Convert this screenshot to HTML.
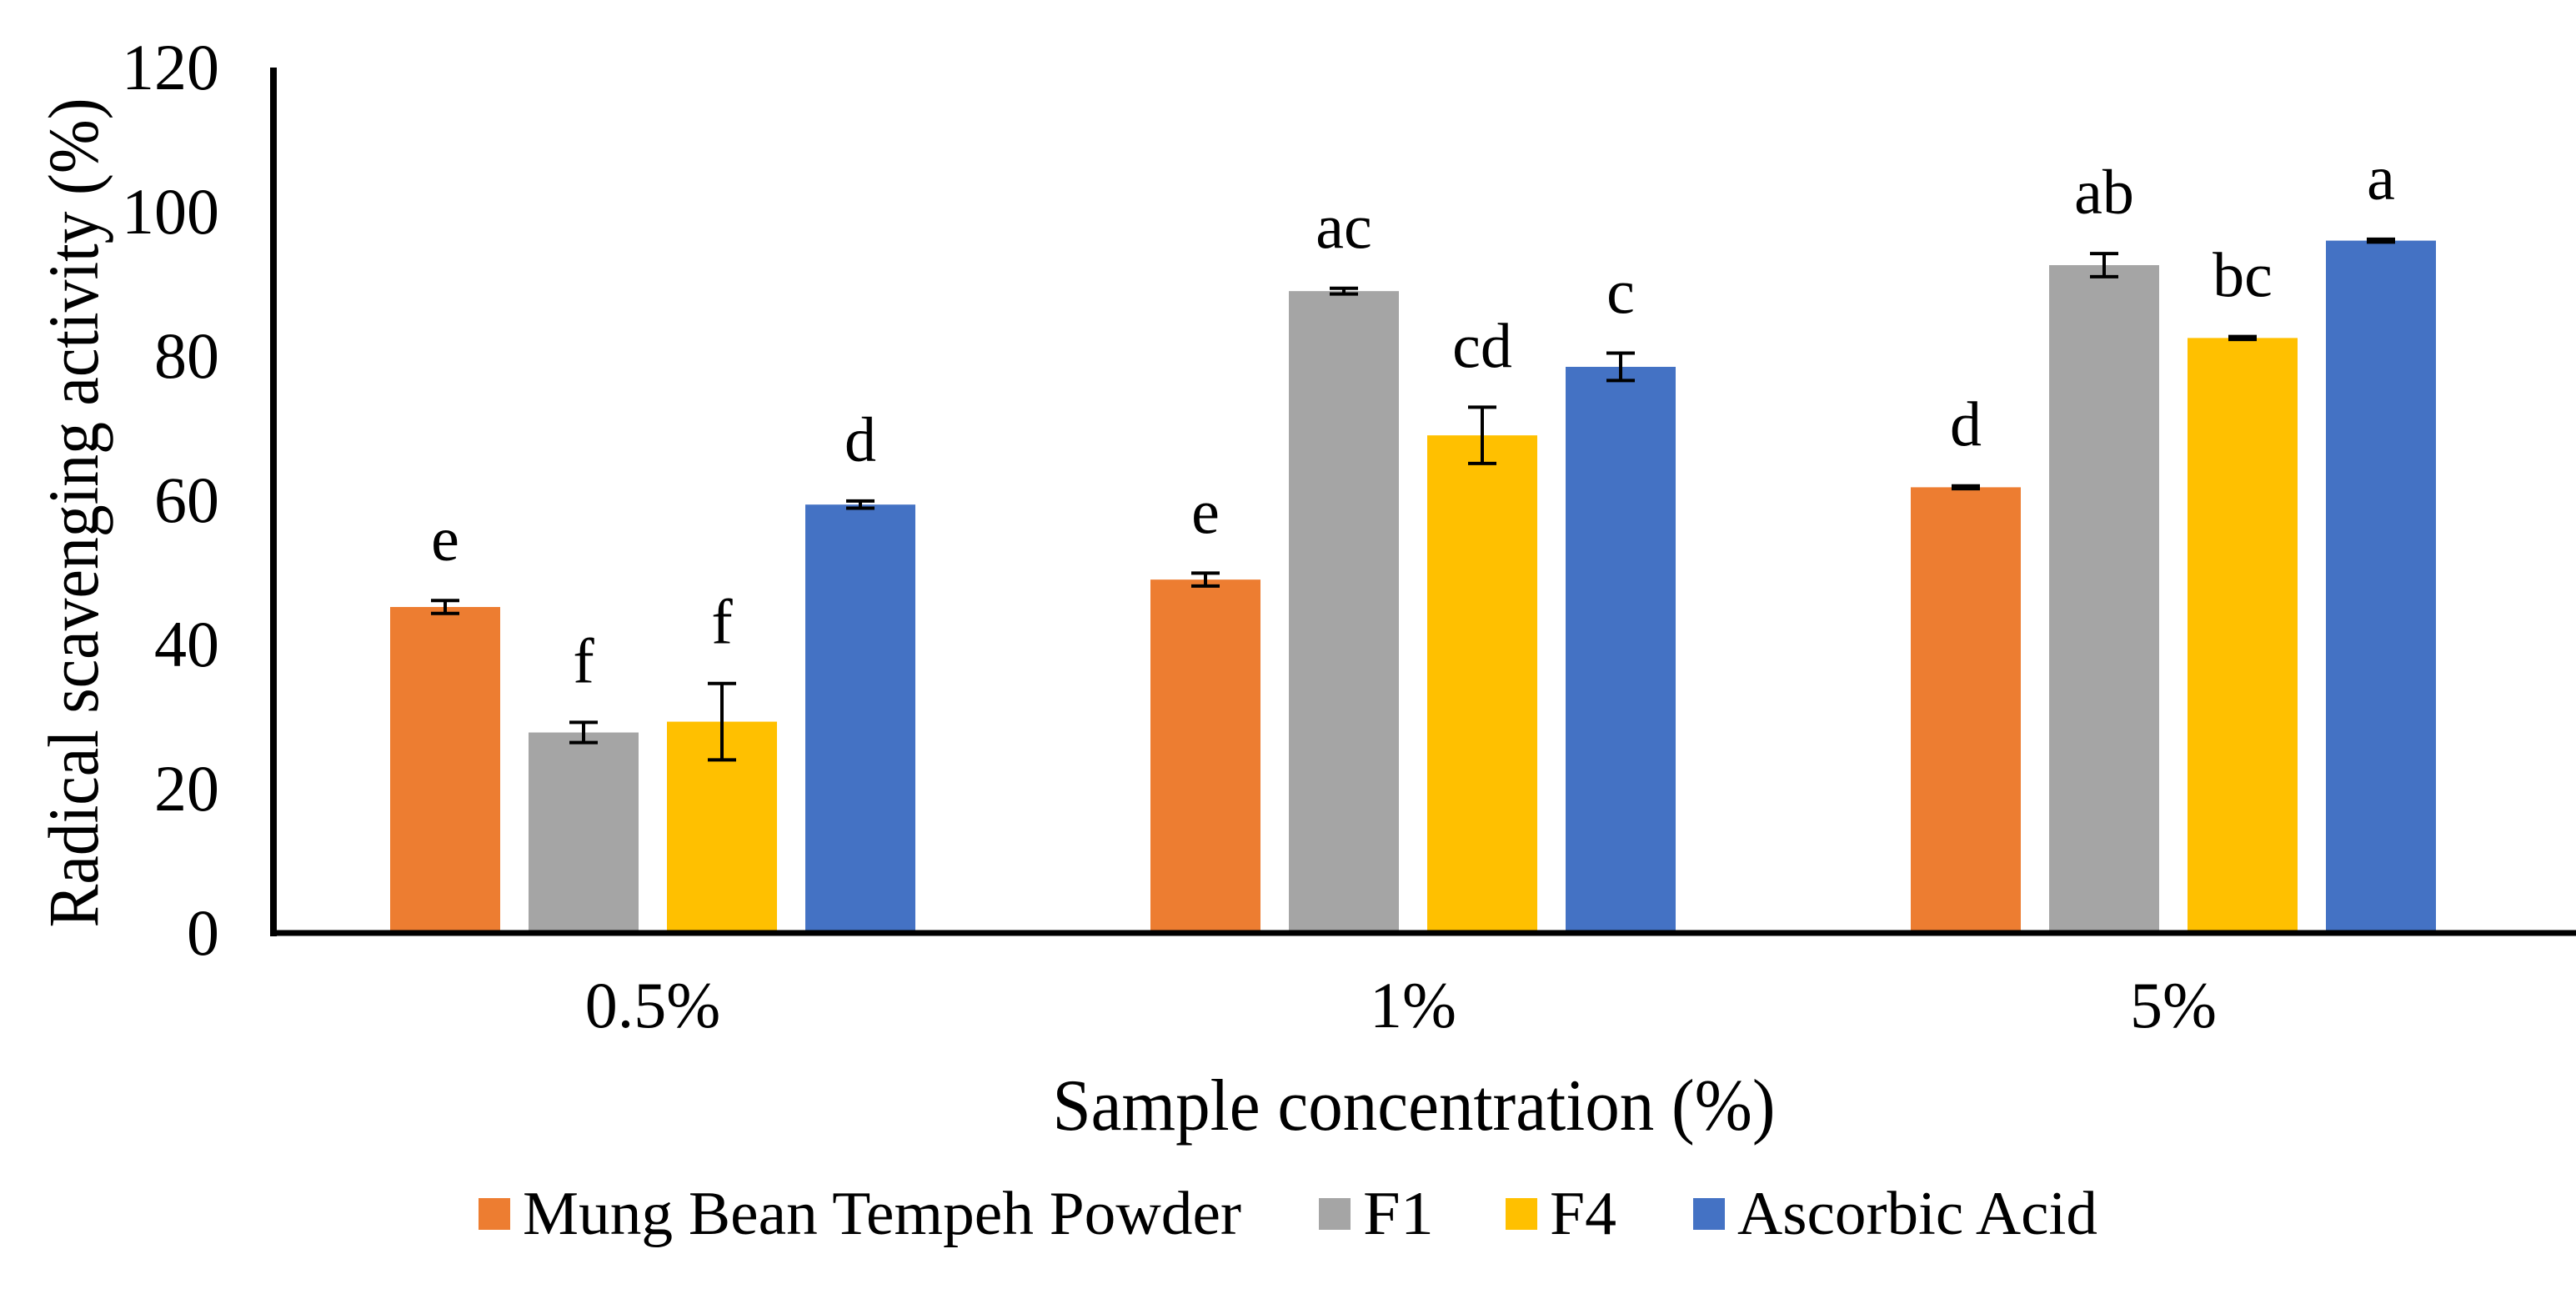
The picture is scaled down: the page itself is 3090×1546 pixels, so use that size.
<!DOCTYPE html>
<html><head><meta charset="utf-8"><style>
html,body{margin:0;padding:0;background:#fff;}
text{font-family:"Liberation Serif","Times New Roman","Nimbus Roman","DejaVu Serif",serif;}
</style></head><body>
<svg id="chart" width="3090" height="1541" viewBox="0 0 3090 1541" xmlns="http://www.w3.org/2000/svg">
<rect width="3090" height="1541" fill="#fff"/>
<g id="bars"></g>
<g id="yticks"></g>
<g id="xticks"></g>
<line x1="328" y1="81" x2="328" y2="1123" stroke="#000" stroke-width="8"/>
<line x1="324" y1="1119" x2="3090" y2="1119" stroke="#000" stroke-width="7"/>
<text transform="translate(117,615) rotate(-90)" text-anchor="middle" font-size="86" textLength="995" lengthAdjust="spacingAndGlyphs">Radical scavenging activity (%)</text>
<text x="1696" y="1355" text-anchor="middle" font-size="88" textLength="867" lengthAdjust="spacingAndGlyphs">Sample concentration (%)</text>
<g id="legend"></g>
</svg>
<script>
const categories = ["0.5%", "1%", "5%"];
const seriesNames = ["Mung Bean Tempeh Powder", "F1", "F4", "Ascorbic Acid"];
const mungBean = [45.2, 49.0, 61.8];
const f1 = [27.8, 89.0, 92.6];
const f4 = [29.3, 69.0, 82.5];
const ascorbic = [59.4, 78.5, 96.0];
const errMung = [0.9, 0.9, 0.2];
const errF1 = [1.4, 0.4, 1.6];
const errF4 = [5.3, 3.9, 0.2];
const errAsc = [0.5, 1.9, 0.2];
const lettersMung = ["e", "e", "d"];
const lettersF1 = ["f", "ac", "ab"];
const lettersF4 = ["f", "cd", "bc"];
const lettersAsc = ["d", "c", "a"];
const yTicks = [0, 20, 40, 60, 80, 100, 120];

const colors = ["#ED7D31", "#A5A5A5", "#FFC000", "#4472C4"];
const NS = "http://www.w3.org/2000/svg";
const y0 = 1119, y120 = 81, yMax = 120;
function yScale(v){ return y0 - (v / yMax) * (y0 - y120); }
const xStart = 327, band = 912, barW = 132, barStep = 166;
function groupCenter(i){ return xStart + band * (i + 0.5); }
function barX(i, s){ return groupCenter(i) - (3 * barStep + barW) / 2 + s * barStep; }
function mk(tag, attrs, parent){ const e = document.createElementNS(NS, tag); for (const k in attrs) e.setAttribute(k, attrs[k]); parent.appendChild(e); return e; }

const series = [mungBean, f1, f4, ascorbic];
const errs = [errMung, errF1, errF4, errAsc];
const letters = [lettersMung, lettersF1, lettersF4, lettersAsc];
const keys = ["mung-bean", "f1", "f4", "ascorbic-acid"];
const bars = document.getElementById("bars");
series.forEach((vals, s) => {
  vals.forEach((v, i) => {
    const x = barX(i, s), y = yScale(v);
    const r = mk("rect", {x: x, y: y, width: barW, height: y0 - y, fill: colors[s]}, bars);
    
    
    const cx = x + barW / 2, e = errs[s][i];
    const yt = yScale(v + e), yb = yScale(v - e);
    const eg = mk("g", {stroke: "#000", "stroke-width": 4}, bars);
    
    
    mk("line", {x1: cx, y1: yt, x2: cx, y2: yb}, eg);
    mk("line", {x1: cx - 17, y1: yt, x2: cx + 17, y2: yt}, eg);
    mk("line", {x1: cx - 17, y1: yb, x2: cx + 17, y2: yb}, eg);
    const t = mk("text", {x: cx, y: yt - 48, "text-anchor": "middle", "font-size": 76}, bars);
    t.textContent = letters[s][i];
    
    
  });
});
const yt = document.getElementById("yticks");
yTicks.forEach(v => {
  const t = mk("text", {x: 263, y: yScale(v) + 26, "text-anchor": "end", "font-size": 78}, yt);
  t.textContent = v;
  
  
});
const xt = document.getElementById("xticks");
categories.forEach((c, i) => {
  const t = mk("text", {x: groupCenter(i), y: 1232, "text-anchor": "middle", "font-size": 78}, xt);
  t.textContent = c;
  
  
});
const lg = document.getElementById("legend");
const legX = [574, 1582, 1806, 2031];
const legW = [862, 85, 80, 432];
seriesNames.forEach((n, s) => {
  const g = mk("g", {}, lg);
  
  
  mk("rect", {x: legX[s], y: 1437, width: 38, height: 38, fill: colors[s]}, g);
  const t = mk("text", {x: legX[s] + 53, y: 1480, "font-size": 74, textLength: legW[s], lengthAdjust: "spacingAndGlyphs"}, g);
  t.textContent = n;
});
</script>
</body></html>
